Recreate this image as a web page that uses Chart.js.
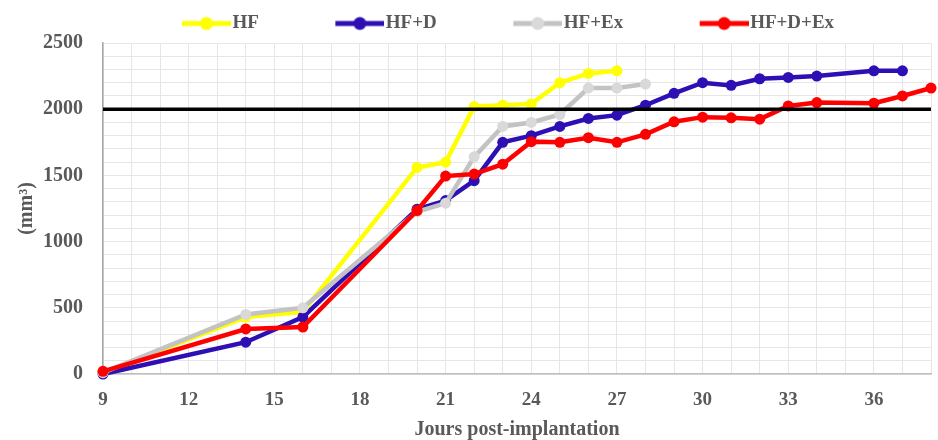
<!DOCTYPE html>
<html>
<head>
<meta charset="utf-8">
<script src="https://cdn.jsdelivr.net/npm/chart.js@4/dist/chart.umd.min.js"></script>
<style>
html,body{margin:0;padding:0;background:#fff;}
#wrap{width:938px;height:440px;}
</style>
</head>
<body>
<div id="wrap"><canvas id="c" width="938" height="440"></canvas></div>
<script>
// ---- data ----
const seriesNames = ["HF", "HF+D", "HF+Ex", "HF+D+Ex"];
const hfDays = [9, 14, 16, 20, 21, 22, 23, 24, 25, 26, 27];
const hfVals = [10, 430, 470, 1560, 1600, 2020, 2030, 2040, 2200, 2270, 2290];
const hfdDays = [9, 14, 16, 20, 21, 22, 23, 24, 25, 26, 27, 28, 29, 30, 31, 32, 33, 34, 36, 37];
const hfdVals = [0, 240, 430, 1245, 1310, 1460, 1750, 1800, 1870, 1930, 1955, 2030, 2120, 2200, 2180, 2230, 2240, 2250, 2290, 2290];
const hfexDays = [9, 14, 16, 20, 21, 22, 23, 24, 25, 26, 27, 28];
const hfexVals = [10, 450, 500, 1225, 1290, 1640, 1870, 1900, 1960, 2160, 2160, 2190];
const hfdexDays = [9, 14, 16, 20, 21, 22, 23, 24, 25, 26, 27, 28, 29, 30, 31, 32, 33, 34, 36, 37, 38];
const hfdexVals = [20, 340, 355, 1235, 1495, 1510, 1585, 1755, 1750, 1785, 1750, 1810, 1905, 1940, 1935, 1925, 2025, 2050, 2045, 2100, 2160];
const thresholdValue = 2000;
const xMin = 9, xMax = 38;
const xLabelStep = 3, xLabelLast = 36;
const yMin = 0, yMax = 2500, yLabelStep = 500;
const xTitle = "Jours post-implantation";
const yTitle = "(mm³)";

// ---- styles ----
const lineColors = ["#FFFF00", "#2D0FB4", "#C3C3C3", "#FF0000"];
const pointColors = ["#FFFF00", "#2D0FB4", "#D9D9D9", "#FF0000"];
const textColor = "#595959";
const fontFam = "'Liberation Serif', 'Times New Roman', serif";

function pts(days, vals) { return days.map((d, i) => ({x: d, y: vals[i]})); }

const LEG_W = 108;
function legendImg(lc, pc) {
  const c = document.createElement('canvas');
  c.width = LEG_W + 16; c.height = 16;
  const g = c.getContext('2d');
  g.strokeStyle = lc; g.lineWidth = 5;
  g.beginPath(); g.moveTo(c.width - 49, 8); g.lineTo(c.width, 8); g.stroke();
  g.fillStyle = pc;
  g.beginPath(); g.arc(c.width - 24.5, 8, 6.5, 0, Math.PI * 2); g.fill();
  return c;
}
const legImgs = lineColors.map((c, i) => legendImg(c, pointColors[i]));

const allDays = [hfDays, hfdDays, hfexDays, hfdexDays];
const allVals = [hfVals, hfdVals, hfexVals, hfdexVals];

const datasets = seriesNames.map((name, i) => ({
  label: name,
  data: pts(allDays[i], allVals[i]),
  borderColor: lineColors[i],
  backgroundColor: pointColors[i],
  pointBackgroundColor: pointColors[i],
  pointBorderColor: pointColors[i],
  borderWidth: 4.5,
  pointRadius: 5.5,
  pointBorderWidth: 0,
  tension: 0,
  clip: false,
  order: 5 - i
}));
datasets.push({
  label: '',
  data: [{x: xMin, y: thresholdValue}, {x: xMax, y: thresholdValue}],
  borderColor: '#000000',
  borderWidth: 3.5,
  pointRadius: 0,
  order: 0
});

new Chart(document.getElementById('c'), {
  type: 'line',
  data: {datasets},
  options: {
    responsive: false,
    animation: false,
    devicePixelRatio: 1,
    layout: {padding: {left: 18, right: 7, top: -6, bottom: 0}},
    plugins: {
      tooltip: {enabled: false},
      legend: {
        position: 'top',
        labels: {
          usePointStyle: true,
          pointStyleWidth: LEG_W,
          padding: 9.5,
          color: textColor,
          font: {family: fontFam, size: 19, weight: 'bold'},
          filter: (item) => item.text !== '',
          sort: (a, b) => a.datasetIndex - b.datasetIndex,
          generateLabels: (chart) => {
            const items = Chart.defaults.plugins.legend.labels.generateLabels(chart);
            items.forEach(it => { if (it.datasetIndex < legImgs.length) { it.pointStyle = legImgs[it.datasetIndex]; } it.lineWidth = 0; });
            return items;
          }
        }
      }
    },
    scales: {
      x: {
        type: 'linear',
        min: xMin, max: xMax,
        ticks: {
          stepSize: 1, autoSkip: false, maxRotation: 0, padding: 15,
          color: textColor,
          font: {family: fontFam, size: 19, weight: 'bold'},
          callback: (v) => ((v - xMin) % xLabelStep === 0 && v <= xLabelLast) ? String(v) : ''
        },
        grid: {color: '#E6E6E6', lineWidth: 1, drawTicks: false},
        border: {color: '#BFBFBF', width: 1.5},
        title: {display: true, text: xTitle, color: textColor, font: {family: fontFam, size: 20, weight: 'bold'}, padding: {top: 0, bottom: -2}},
        afterFit: (s) => { s.height = 66; s.paddingLeft = 0; s.paddingRight = 0; }
      },
      y: {
        min: yMin, max: yMax,
        ticks: {
          stepSize: 100, autoSkip: false, padding: 20,
          color: textColor,
          font: {family: fontFam, size: 20, weight: 'bold'},
          callback: (v) => (v % yLabelStep === 0) ? String(v) : ''
        },
        grid: {color: '#E6E6E6', lineWidth: 1, drawTicks: false},
        border: {color: '#A6A6A6', width: 1.5},
        title: {display: true, text: yTitle, color: textColor, font: {family: fontFam, size: 20, weight: 'bold'}, padding: {top: -3, bottom: 0}},
        afterFit: (s) => { s.width = 85; s.paddingTop = 43; s.paddingBottom = 0; }
      }
    }
  }
});
</script>
</body>
</html>
